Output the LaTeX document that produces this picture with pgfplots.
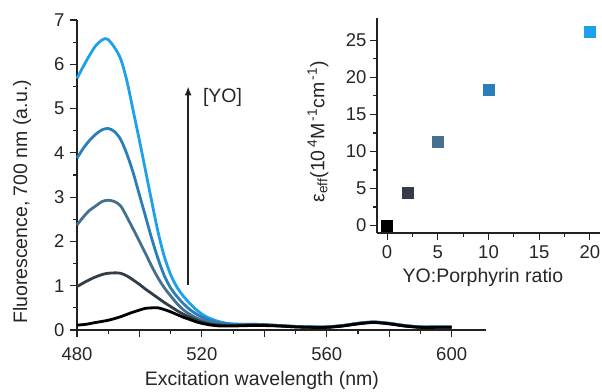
\documentclass[border=0pt]{standalone}
\usepackage{fontspec}
\setmainfont{Liberation Sans}
\usepackage{pgfplots}
\pgfplotsset{compat=1.18}
\usetikzlibrary{arrows.meta}
\definecolor{czero}{HTML}{000000}
\definecolor{ctwo}{HTML}{333D47}
\definecolor{cfive}{HTML}{45708F}
\definecolor{cten}{HTML}{2A7FB8}
\definecolor{ctwenty}{HTML}{1FA0EA}
\definecolor{axcol}{HTML}{222222}
\begin{document}
\begin{tikzpicture}
\pgfplotsset{
  every axis/.append style={
    /pgf/number format/assume math mode=true,
    axis lines*=left,
    axis line style={axcol, line width=1.4bp},
    tick align=outside,
    major tick length=7bp,
    minor tick length=4bp,
    every tick/.style={axcol, line width=1.2bp},
    tick label style={font=\fontsize{18.5bp}{20bp}\selectfont, text=black!85},
    label style={font=\fontsize{19.5bp}{22bp}\selectfont, text=black!85},
    scale only axis,
  }
}
\begin{axis}[
  at={(77bp,62bp)}, anchor=south west,
  width=409bp, height=310bp,
  xmin=480, xmax=611, ymin=0, ymax=7,
  xtick={480,500,...,600},
  xticklabels={480,{},520,{},560,{},600},
  minor x tick num=1,
  ytick={0,1,...,7},
  minor y tick num=1,
  xticklabel style={yshift=-7bp},
  yticklabel style={xshift=-2bp},
  xlabel={Excitation wavelength (nm)},
  ylabel={Fluorescence, 700 nm (a.u.)},
  xlabel style={at={(axis description cs:0.452,-0.163)}, anchor=center},
  ylabel style={at={(axis description cs:-0.134,0.413)}, anchor=center, rotate=0},
  clip=false,
]
\addplot[ctwenty, line width=2.8bp, smooth] coordinates {
(480,5.68)(482,5.95)(484,6.2)(486,6.42)(488,6.55)(489,6.58)(490,6.56)(492,6.38)(494,6.12)(496,5.62)(498,4.95)(500,4.28)(502,3.58)(504,2.88)(506,2.2)(508,1.65)(510,1.25)(512,0.97)(514,0.77)(516,0.61)(518,0.47)(520,0.36)(522,0.28)(525,0.2)(528,0.15)(532,0.13)(536,0.13)(540,0.12)(545,0.1)(550,0.08)(555,0.07)(560,0.07)(565,0.1)(570,0.15)(575,0.18)(580,0.15)(585,0.1)(590,0.07)(595,0.07)(600,0.07)};
\addplot[cten, line width=2.8bp, smooth] coordinates {
(480,3.88)(482,4.1)(484,4.28)(486,4.42)(488,4.52)(490,4.55)(492,4.48)(494,4.3)(496,3.97)(498,3.55)(500,3.05)(502,2.55)(504,2.05)(506,1.6)(508,1.22)(510,0.95)(512,0.76)(514,0.6)(516,0.47)(518,0.37)(520,0.29)(523,0.21)(526,0.16)(530,0.13)(536,0.13)(540,0.12)(545,0.1)(550,0.08)(555,0.07)(560,0.07)(565,0.1)(570,0.15)(575,0.18)(580,0.15)(585,0.1)(590,0.07)(595,0.07)(600,0.07)};
\addplot[cfive, line width=2.8bp, smooth] coordinates {
(480,2.37)(482,2.55)(484,2.7)(486,2.8)(488,2.9)(490,2.93)(492,2.9)(494,2.8)(496,2.55)(498,2.28)(500,2.0)(502,1.72)(504,1.43)(506,1.17)(508,0.95)(510,0.77)(512,0.6)(514,0.46)(516,0.36)(518,0.28)(520,0.22)(523,0.16)(526,0.13)(530,0.11)(536,0.12)(540,0.11)(545,0.1)(550,0.08)(555,0.07)(560,0.07)(565,0.1)(570,0.15)(575,0.18)(580,0.15)(585,0.1)(590,0.07)(595,0.07)(600,0.07)};
\addplot[ctwo, line width=2.8bp, smooth] coordinates {
(480,0.98)(483,1.1)(486,1.2)(489,1.27)(492,1.29)(494,1.28)(496,1.22)(498,1.13)(500,1.03)(502,0.92)(504,0.82)(506,0.72)(508,0.62)(510,0.53)(512,0.44)(514,0.36)(516,0.29)(518,0.23)(520,0.18)(523,0.13)(526,0.11)(530,0.1)(536,0.11)(540,0.11)(545,0.09)(550,0.07)(555,0.06)(560,0.06)(565,0.09)(570,0.14)(575,0.17)(580,0.14)(585,0.09)(590,0.06)(595,0.06)(600,0.06)};
\addplot[czero, line width=2.8bp, smooth] coordinates {
(480,0.11)(483,0.13)(486,0.17)(490,0.22)(494,0.3)(497,0.38)(500,0.45)(502,0.49)(504,0.5)(506,0.5)(508,0.46)(510,0.41)(512,0.35)(514,0.29)(516,0.24)(518,0.19)(520,0.15)(523,0.11)(526,0.09)(530,0.09)(535,0.1)(540,0.1)(545,0.09)(550,0.07)(555,0.06)(560,0.06)(565,0.09)(570,0.14)(575,0.17)(580,0.14)(585,0.09)(590,0.06)(595,0.06)(600,0.06)};
\draw[axcol, line width=1.5bp, -{Latex[length=9bp,width=7bp]}] (axis cs:515.6,1.02) -- (axis cs:515.6,5.5);
\node[anchor=west, inner sep=0pt, font=\fontsize{19.5bp}{22bp}\selectfont, text=black!85] at (axis cs:520.3,5.26) {[YO]};
\end{axis}
\begin{axis}[
  at={(377bp,159bp)}, anchor=south west,
  width=223bp, height=215bp,
  xmin=-1, xmax=21, ymin=-1, ymax=28,
  xtick={0,5,...,20}, minor x tick num=1,
  ytick={0,5,...,25}, minor y tick num=1,
  xticklabel style={yshift=-2bp},
  xlabel={YO:Porphyrin ratio},
  ylabel={ε\textsubscript{eff}(10\textsuperscript{\,4}M\textsuperscript{\,-1}cm\textsuperscript{\,-1})},
  xlabel style={at={(axis description cs:0.475,-0.205)}, anchor=center},
  ylabel style={at={(axis description cs:-0.265,0.47)}, anchor=center},
  clip=false,
]
\addplot[only marks, mark=square*, mark size=5.5bp, czero] coordinates {(0,0)};
\addplot[only marks, mark=square*, mark size=5.5bp, ctwo] coordinates {(2,4.5)};
\addplot[only marks, mark=square*, mark size=5.5bp, cfive] coordinates {(5,11.3)};
\addplot[only marks, mark=square*, mark size=5.5bp, cten] coordinates {(10,18.3)};
\addplot[only marks, mark=square*, mark size=5.5bp, ctwenty] coordinates {(20,26.2)};
\end{axis}
\pgfresetboundingbox
\path (0,0) rectangle (602bp,392bp);
\end{tikzpicture}
\end{document}
